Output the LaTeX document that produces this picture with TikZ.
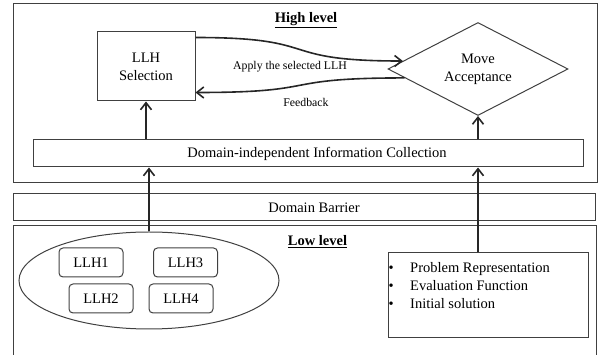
\documentclass[tikz,border=0pt]{standalone}
\usepackage{fontspec}
\setmainfont{Liberation Serif}
\usetikzlibrary{shapes.geometric,arrows.meta,calc}
\tikzset{
  txt/.style={font=\fontsize{14.5}{18}\selectfont},
  small/.style={font=\fontsize{11.8}{14}\selectfont},
  frame/.style={draw=black!75, line width=1pt},
  box/.style={frame, txt, inner sep=0pt},
  llh/.style={box, rounded corners=4pt, minimum width=64pt, minimum height=29pt},
  arr/.style={-{Straight Barb[length=7pt,width=11pt]}, line width=1.6pt, black!85},
}
\begin{document}
\begin{tikzpicture}[x=1pt,y=-1pt]
    \useasboundingbox (0,0) rectangle (598,355);
    \draw[frame] (13,4) rectangle (597,183);
    \draw[frame] (13,194) rectangle (595,221);
    \draw[frame] (13,356) -- (13,226) -- (596,226) -- (596,356);
    \node[txt] (high) at (306,20) {\underline{\textbf{High level}}};
    \node[txt] (low) at (317.5,242) {\underline{\textbf{Low level}}};
    \node[txt] (barrier) at (314,208) {Domain Barrier};

    \node[box, minimum width=98pt, minimum height=69pt, align=center] (sel) at (146,66.5) {LLH\\Selection};
    \node[box, diamond, aspect=1.9, minimum width=180pt, minimum height=93pt, align=center] (acc) at (478,69) {Move\\Acceptance};
    \node[box, minimum width=550pt, minimum height=27pt] (info) at (308,153.5) {};
    \node[txt] (infotext) at (317,153.5) {Domain-independent Information Collection};

    \node[frame, ellipse, minimum width=260pt, minimum height=97pt] (pool) at (149,280.5) {};
    \node[llh] (llh1) at (91,262.5) {LLH1};
    \node[llh] (llh3) at (185.5,262.5) {LLH3};
    \node[llh] (llh2) at (101,298.5) {LLH2};
    \node[llh] (llh4) at (181,298.5) {LLH4};

    \node[box, minimum width=200pt, minimum height=85pt] (dom) at (488,295.5) {};
    \node[txt, anchor=base west, inner sep=0pt] (item1) at (388.5,273) {\makebox[21.5pt][l]{\textbullet}Problem Representation};
    \node[txt, anchor=base west, inner sep=0pt] (item2) at (388.5,291) {\makebox[21.5pt][l]{\textbullet}Evaluation Function};
    \node[txt, anchor=base west, inner sep=0pt] (item3) at (388.5,309) {\makebox[21.5pt][l]{\textbullet}Initial solution};

    \draw[arr] ([yshift=-6pt]sel.north east) to[out=0, in=180, looseness=1.6] ($(acc.west)!0.17!(acc.north)$);
    \draw[arr] ($(acc.west)!0.19!(acc.south)$) to[out=180, in=0, looseness=1.6] ([yshift=9pt]sel.south east);
    \node[small] (apply) at (290,67) {Apply the selected LLH};
    \node[small] (feedback) at (306,102) {Feedback};

    \draw[arr] (info.north -| sel.south) -- (sel.south);
    \draw[arr] (info.north -| acc.south) -- (acc.south);
    \draw[arr] (pool.north) -- (pool.north |- info.south);
    \draw[arr] (dom.north -| acc.south) -- (acc.south |- info.south);
\end{tikzpicture}
\end{document}
